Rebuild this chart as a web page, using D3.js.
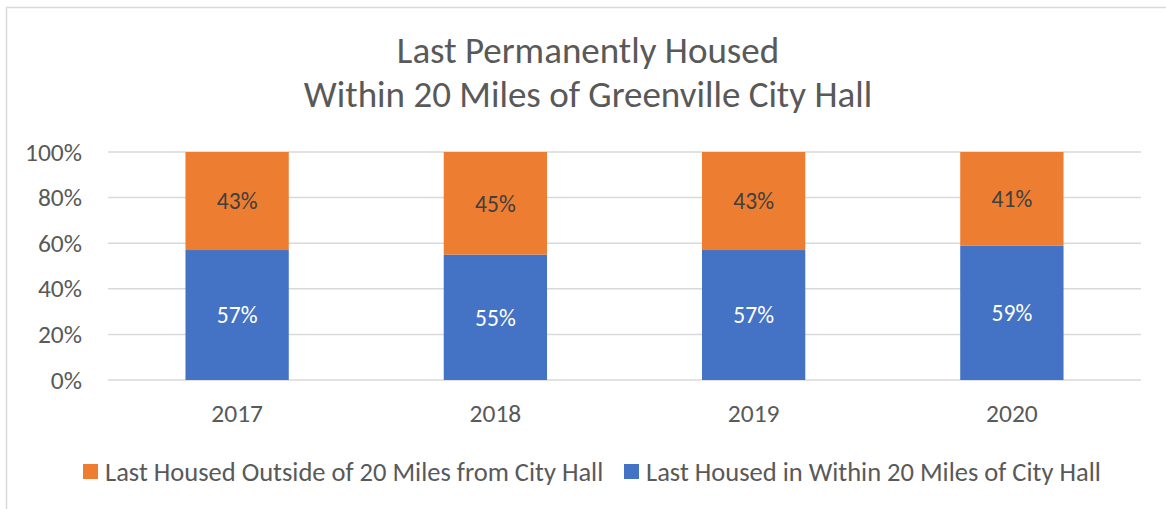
<!DOCTYPE html>
<html>
<head>
<meta charset="utf-8">
<script src="https://cdn.jsdelivr.net/npm/d3@7"></script>
<style>
  body { margin: 0; background: #fff; }
  text { font-family: Carlito, Calibri, Lato, sans-serif; }
</style>
</head>
<body>
<div id="chart"></div>
<script>
// data
var years = ["2017", "2018", "2019", "2020"];
var within = [57, 55, 57, 59];
var outside = [43, 45, 43, 41];
var yTicks = [0, 20, 40, 60, 80, 100];
var seriesNames = ["Last Housed Outside of 20 Miles from City Hall", "Last Housed in Within 20 Miles of City Hall"];
var titleLines = ["Last Permanently Housed", "Within 20 Miles of Greenville City Hall"];

var svgWidth = 1166;
var svgHeight = 509;
var margin = { top: 152, right: 25, bottom: 129, left: 108 };
var width = svgWidth - margin.left - margin.right;
var height = svgHeight - margin.top - margin.bottom;

var blue = "#4472c4";
var orange = "#ed7d31";
var grey = "#595959";
var font = "Carlito, Calibri, Lato, sans-serif";

var svg = d3.select("#chart")
    .append("svg")
    .attr("width", svgWidth)
    .attr("height", svgHeight);

// chart border (right and bottom edges fall outside the picture)
svg.append("rect")
    .attr("x", 6.5).attr("y", 7.5)
    .attr("width", svgWidth + 10).attr("height", svgHeight + 10)
    .attr("fill", "none")
    .attr("stroke", "#d9d9d9")
    .attr("stroke-width", 1.5);

// title
svg.append("text")
    .attr("x", 588)
    .attr("y", 63)
    .attr("text-anchor", "middle")
    .attr("font-size", "37px")
    .attr("fill", grey)
    .selectAll("tspan")
    .data(titleLines)
    .enter()
    .append("tspan")
    .attr("x", 588)
    .attr("dy", (d, i) => i === 0 ? 0 : 44)
    .text(d => d);

var g = svg.append("g")
    .attr("transform", `translate(${margin.left}, ${margin.top})`);

var xScale = d3.scaleBand()
    .domain(years)
    .range([0, width])
    .paddingInner(0.6)
    .paddingOuter(0.3);

var yScale = d3.scaleLinear()
    .domain([0, 100])
    .range([height, 0]);

// gridlines
g.selectAll(".grid")
    .data(yTicks)
    .enter()
    .append("line")
    .attr("x1", 0)
    .attr("x2", width)
    .attr("y1", d => yScale(d))
    .attr("y2", d => yScale(d))
    .attr("stroke", "#d9d9d9")
    .attr("stroke-width", 1.5);

// y axis
var yAxis = d3.axisLeft(yScale)
    .tickValues(yTicks)
    .tickFormat(d => d + "%")
    .tickSize(0)
    .tickPadding(26);

g.append("g")
    .call(yAxis)
    .call(a => a.select(".domain").remove())
    .selectAll("text")
    .attr("font-size", "25.5px")
    .attr("fill", grey)
    .attr("font-family", font);

// x axis
var xAxis = d3.axisBottom(xScale).tickSize(0).tickPadding(24);
g.append("g")
    .attr("transform", `translate(0, ${height})`)
    .call(xAxis)
    .call(a => a.select(".domain").remove())
    .selectAll("text")
    .attr("font-size", "25.5px")
    .attr("fill", grey)
    .attr("font-family", font);

var rows = years.map((y, i) => ({ year: y, within: within[i], outside: outside[i] }));

// within (bottom)
g.selectAll(".bar-within")
    .data(rows)
    .enter()
    .append("rect")
    .attr("x", d => xScale(d.year))
    .attr("width", xScale.bandwidth())
    .attr("y", d => yScale(d.within))
    .attr("height", d => height - yScale(d.within))
    .attr("fill", blue);

// outside (top)
g.selectAll(".bar-outside")
    .data(rows)
    .enter()
    .append("rect")
    .attr("x", d => xScale(d.year))
    .attr("width", xScale.bandwidth())
    .attr("y", d => yScale(d.within + d.outside))
    .attr("height", d => yScale(d.within) - yScale(d.within + d.outside))
    .attr("fill", orange);

// labels
g.selectAll(".lab-within")
    .data(rows)
    .enter()
    .append("text")
    .attr("x", d => xScale(d.year) + xScale.bandwidth() / 2)
    .attr("y", d => yScale(d.within / 2))
    .attr("dy", "0.35em")
    .attr("text-anchor", "middle")
    .attr("font-size", "23.5px")
    .attr("fill", "#ffffff")
    .text(d => d.within + "%");

g.selectAll(".lab-outside")
    .data(rows)
    .enter()
    .append("text")
    .attr("x", d => xScale(d.year) + xScale.bandwidth() / 2)
    .attr("y", d => yScale(d.within + d.outside / 2))
    .attr("dy", "0.35em")
    .attr("text-anchor", "middle")
    .attr("font-size", "23.5px")
    .attr("fill", "#404040")
    .text(d => d.outside + "%");

// legend
var legendColors = [orange, blue];
var legendX = [83, 624];
var legend = svg.selectAll(".legend")
    .data(seriesNames)
    .enter()
    .append("g")
    .attr("transform", (d, i) => `translate(${legendX[i]}, 464)`);

legend.append("rect")
    .attr("width", 15)
    .attr("height", 15)
    .attr("fill", (d, i) => legendColors[i]);

legend.append("text")
    .attr("x", 22)
    .attr("y", 8)
    .attr("dy", "0.35em")
    .attr("font-size", "26.5px")
    .attr("fill", grey)
    .text(d => d);
</script>
</body>
</html>
